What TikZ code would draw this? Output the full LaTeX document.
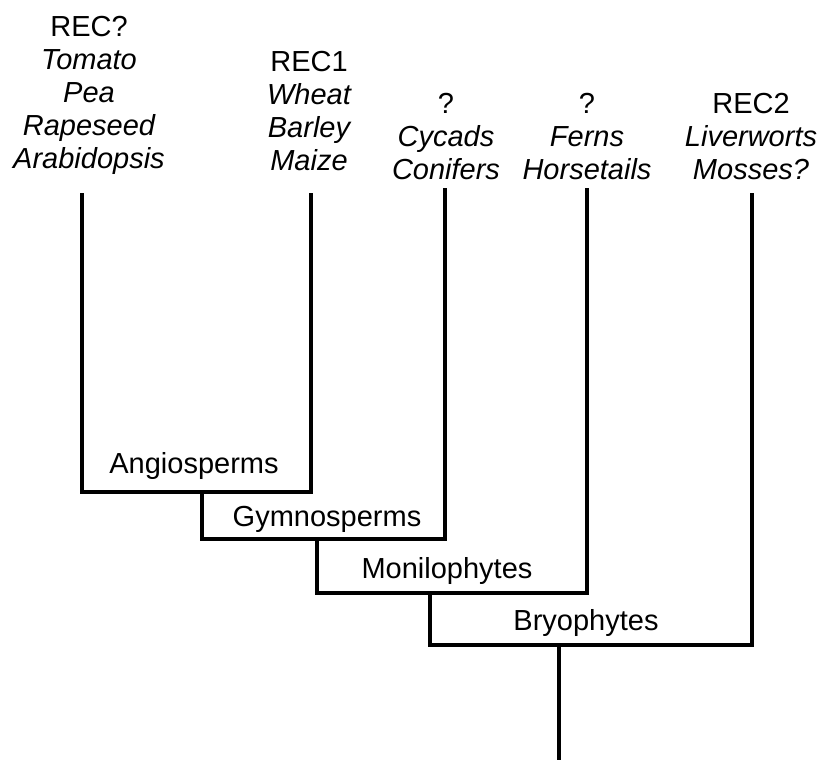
\documentclass[tikz,border=0pt]{standalone}
\usepackage{fontspec}
\setmainfont{Liberation Sans}
\begin{document}
\begin{tikzpicture}[x=1pt,y=-1pt,
  branch/.style={line width=3.5pt,line join=miter,black},
  leaflabel/.style={align=center,inner sep=0pt,anchor=base,font=\fontsize{29}{33}\selectfont},
  cladelabel/.style={inner sep=0pt,anchor=base,font=\fontsize{29}{33}\selectfont}]
\useasboundingbox (0,0) rectangle (821,760);
% leaf tops
\coordinate (t1) at (82,193);
\coordinate (t2) at (311,193);
\coordinate (t3) at (445,188);
\coordinate (t4) at (587,188);
\coordinate (t5) at (752,193);
% internal nodes
\coordinate (a) at (202,492);
\coordinate (g) at (317,539);
\coordinate (m) at (430,593);
\coordinate (b) at (559,645);
\coordinate (root) at (559,760);
% branches
\draw[branch] (t1) |- (a) -| (t2);
\draw[branch] (a) |- (g) -| (t3);
\draw[branch] (g) |- (m) -| (t4);
\draw[branch] (m) |- (b) -| (t5);
\draw[branch] (b) -- (root);
% leaf labels (anchored at the baseline of the last line)
\node[leaflabel] (L1) at (89,168) {REC?\\\itshape Tomato\\\itshape Pea\\\itshape Rapeseed\\\itshape Arabidopsis};
\node[leaflabel] (L2) at (309,170) {REC1\\\itshape Wheat\\\itshape Barley\\\itshape Maize};
\node[leaflabel] (L3) at (446,179) {?\\\itshape Cycads\\\itshape Conifers};
\node[leaflabel] (L4) at (587,179) {?\\\itshape Ferns\\\itshape Horsetails};
\node[leaflabel] (L5) at (751,179) {REC2\\\itshape Liverworts\\\itshape Mosses?};
% clade labels
\node[cladelabel] (A) at (194,473) {Angiosperms};
\node[cladelabel] (G) at (327,526) {Gymnosperms};
\node[cladelabel] (M) at (447,578) {Monilophytes};
\node[cladelabel] (B) at (586,630) {Bryophytes};
\end{tikzpicture}
\end{document}
